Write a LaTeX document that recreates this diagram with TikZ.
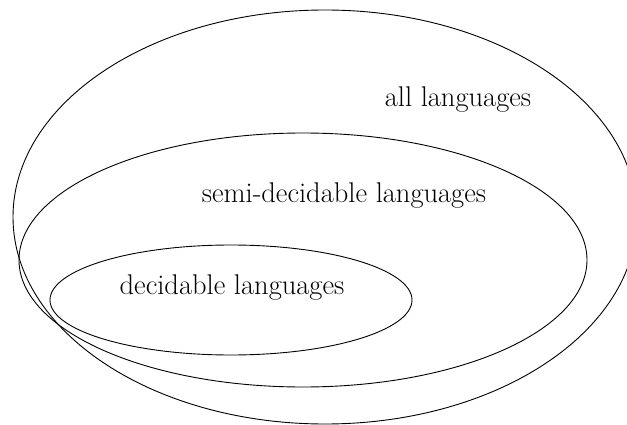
\documentclass[tikz,border=0pt]{standalone}
\begin{document}
\begin{tikzpicture}[x=1pt,y=1pt,line width=0.9pt,
    lang/.style={font=\fontsize{28.5}{32}\selectfont}]
      \clip (0,0) rectangle (627,424);
      % the three classes, nested
      \draw (325,207) ellipse [x radius=312, y radius=207];
      \draw (303,164) ellipse [x radius=284, y radius=127];
      \draw (231,124) ellipse [x radius=181, y radius=55];
      \draw
        (458,324) node[lang] (all){all languages}
        (344,228) node[lang] (semi){semi-decidable languages}
        (232,136) node[lang] (dec){decidable languages};
    \end{tikzpicture}
\end{document}
